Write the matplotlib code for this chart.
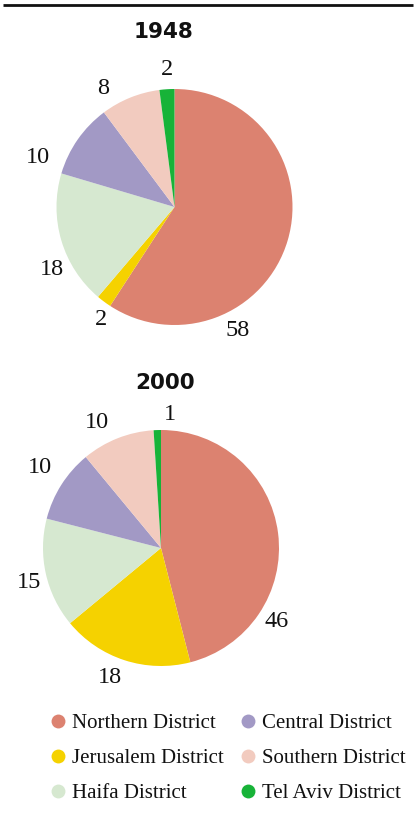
import numpy as np
import matplotlib.pyplot as plt
from matplotlib.lines import Line2D

# data
districts = ['Northern District', 'Jerusalem District', 'Haifa District',
             'Central District', 'Southern District', 'Tel Aviv District']
colors = ['#DC8270', '#F5D200', '#D6E8D0', '#A299C5', '#F2CBBF', '#17B338']
years = ['1948', '2000']
vals_1948 = [58, 2, 18, 10, 8, 2]
vals_2000 = [46, 18, 15, 10, 10, 1]

# layout (pixels, y from top)
W, H = 417, 832
centers = [(174.5, 207), (161, 548)]
radius = 118
title_pos = [(164, 32), (165, 383)]
lab_ang_1948 = [-63, 237, 207, 160, 121, 93]
lab_rad_1948 = [1.175, 1.14, 1.17, 1.23, 1.17, 1.17]
lab_ang_2000 = [-32.5, 248.5, 194.5, 146.5, 117, 86]
lab_rad_2000 = [1.165, 1.175, 1.155, 1.23, 1.19, 1.13]

fig = plt.figure(figsize=(W / 100, H / 100), dpi=100)
ax = fig.add_axes([0, 0, 1, 1])

serif = ['Liberation Serif', 'DejaVu Serif']

for vals, (cx, cy), (tx, ty), angs, rads, yr in zip(
        [vals_1948, vals_2000], centers, title_pos,
        [lab_ang_1948, lab_ang_2000], [lab_rad_1948, lab_rad_2000], years):
    ax.pie(vals, colors=colors, startangle=90, counterclock=False,
           center=(cx, H - cy), radius=radius,
           wedgeprops=dict(linewidth=0))
    ax.text(tx, H - ty, yr, ha='center', va='center', fontsize=15.5,
            fontweight='bold', family=['DejaVu Sans'], color='#111111')
    for v, a, r in zip(vals, angs, rads):
        x = cx + radius * r * np.cos(np.radians(a))
        y = H - cy + radius * r * np.sin(np.radians(a))
        ax.text(x, y, str(v), ha='center', va='center', fontsize=17.5,
                family=serif, color='#111111')

ax.set_xlim(0, W)
ax.set_ylim(0, H)
ax.axis('off')

# top rule
ax.plot([3, 413], [H - 5, H - 5], color='#111111', lw=2, solid_capstyle='butt')

handles = [Line2D([], [], marker='o', ls='none', markersize=10,
                  markerfacecolor=c, markeredgewidth=0) for c in colors]
leg = fig.legend(handles, districts, ncol=2, loc='upper left',
                 bbox_to_anchor=(47.6 / W, 1 - 713.5 / H), frameon=False,
                 prop={'family': serif, 'size': 15},
                 handletextpad=0.15, columnspacing=0.7, labelspacing=0.75,
                 handlelength=1.0, borderaxespad=0, borderpad=0)
for t in leg.get_texts():
    t.set_color('#111111')

fig.savefig('out.png', dpi=100)
